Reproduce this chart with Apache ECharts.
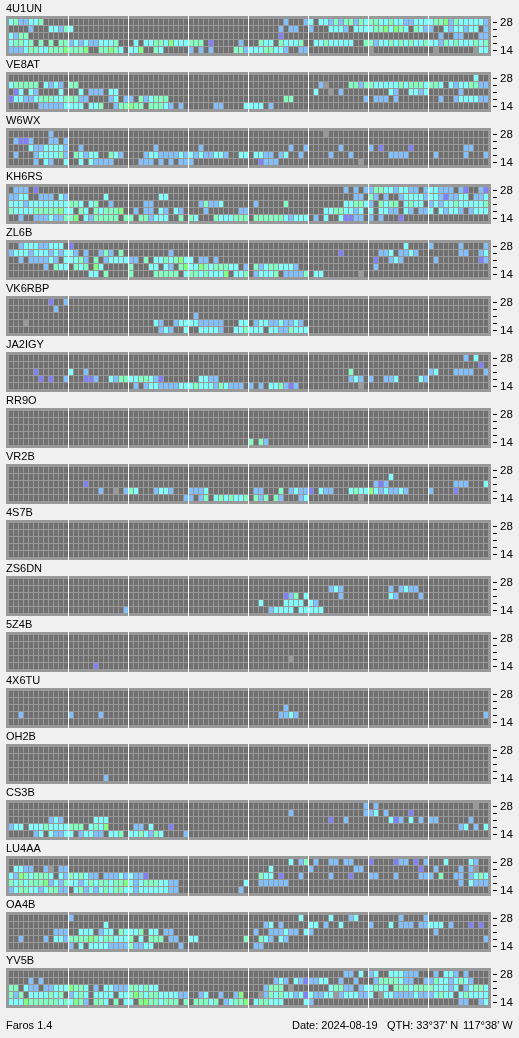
<!DOCTYPE html>
<html><head><meta charset="utf-8">
<style>html,body{margin:0;padding:0;background:#f0f0f0}#c{width:519px;height:1038px}</style>
<script src="https://cdn.jsdelivr.net/npm/echarts@6/dist/echarts.min.js"></script>
</head><body><div id="c"></div><script>
// One string per band, top row (28 MHz) first; one char per 15-minute slot, grouped by 3 hours.
// . = no reception, x = unusable slot, 1..5 = signal level
const s4U1UN = [
"3422334..... ............ ............ ............ .......2...2 3.3324244243 443343322333 344524333332",
"....2...3324 3........... ............ ............ ......2.22.. 2...3332.333 34453543.432 2..3233233.2",
"3244........ ............ ............ ............ ......1..... ............ ............ ..2..22...22",
"34434.4.4.44 2323223334.. .3.334435333 444.1.....2. ..433.43334. .33433333..4 423343434334 332434333434",
"222344334445 4445..44543. 335..43..... 2.2.2....442 33344332..22 ............ x........... .x.......x33"];
const sVE8AT = [
"............ ............ ............ ............ ............ ............ ............ .........3..",
"344444.3232. 44.......... ............ ............ ............ ..2x....4424 433333434443 443.32334422",
".13.32....3. ..3.222.33.. ............ ............ ............ .3..x.2..... ....32..3323 ......2.....",
"133223444334 4422....23.2 2.423444.... ............ .......44... ...........2 .222.2...... ..2..2333322",
"......222223 333.334..244 544.44432.2. .....22....3 333.2....... ............ ............ ............"];
const sW6WX = [
"........2... ............ ............ ............ ............ ...x........ ............ ............",
".2112...22.2 ............ ............ ............ ............ ............ ............ ............",
"....32233332 ..2......... .....2...... ..2......... ........2..2 ......2..... 2.1.....1... .......22...",
".2...2333342 .43233..432. ...233222232 32322332..33 .3322.23..2. ....2...2... ....2222.... .2.....2...2",
".....2.32..3 ..3.32222... ..222.2.2.22 2........... ..1222...... ..........x. ............ ............"];
const sKH6RS = [
".222.1...... ............ ............ ............ ............ .......2.2.2 2443323322.2 33222.21..21",
"2233..222.32 .......3.... ......33.... ............ ............ .........22. 42.2..233332 33212233.223",
"333233333333 443.34..2... ...22....... ..24223..... .2.....4.... .......33443 2.4344.3433. 232334333334",
"433334444453 3.43.434445. .2.22.32.32. ...2......22 ............ ...33443323. 3.3322.32.22 3.32332.2333",
"..2..2223224 45.3244444.4 4.442333..4. 43...4333444 .44444432333 .2.3..31122. 2.2...1..... ............"];
const sZL6B = [
"..233322333. 1........... ............ ............ ............ ............ .......3.... 2.....2....2",
"233323332323 32.2..242.4. ........2... ............ ............ ......1..... ..223.2232.. ......22..23",
"..2.222232.3 3342.4.23333 22.4.3343453 3.22.2...... ............ ............ .1..232..... .2........12",
".......2.433 .434.53..... 4...33.32.45 3354344433.2 .423443332.. ............ .2.......... ............",
"............ ....33.4.... 4....44444.3 44343335.334 .23334.22224 .33.......x. ............ ............"];
const sVK6RBP = [
"........1..2 ............ ............ ............ ............ ............ ............ ............",
".........2.. ............ ............ ............ ............ ............ ............ ............",
"............ ............ ............ .2.......... ............ ............ ............ ............",
"...x........ ............ .....32..233 3322222...33 .2332232232. ............ ............ ............",
"............ ............ ......232..3 ..33332..334 333.33224333 ............ ............ ............"];
const sJA2IGY = [
"............ ............ ............ ............ ............ ............ ............ .......2.3..",
"............ ............ ............ ............ ............ ............ ............ ..........1.",
".....1...... 3..2........ ............ ............ ............ ........4... ............ 23...2222..2",
"......1.1..2 ...112..3244 3344321..... ..3322...... ............ ........232. 2..223....32 ............",
"............ ............ .2.233222233 34333243222. 2.2.334212.. ..........x. ............ ............"];
const sRR9O = [
"............ ............ ............ ............ ............ ............ ............ ............",
"............ ............ ............ ............ ............ ............ ............ ............",
"............ ............ ............ ............ ............ ............ ............ ............",
"............ ............ ............ ............ ............ ............ ............ ............",
"............ ............ ............ ............ 4.42........ ............ ............ ............"];
const sVR2B = [
"............ ............ ............ ............ ............ ............ ............ ............",
"............ ............ ............ ............ ............ ............ ....3....... ............",
"............ ...1........ ............ ............ ............ ............ .212........ .....222...3",
"............ ......2..x.2 43...2332... 2223........ .22...4.2322 1.322...3433 53232232.... 2....1......",
"............ ............ ...........2 2.24.3434334 .424.42...23 ..........x. ............ ............"];
const s4S7B = [
"............ ............ ............ ............ ............ ............ ............ ............",
"............ ............ ............ ............ ............ ............ ............ ............",
"............ ............ ............ ............ ............ ............ ............ ............",
"............ ............ ............ ............ ............ ............ ............ ............",
"............ ............ ............ ............ ............ ............ ............ ............"];
const sZS6DN = [
"............ ............ ............ ............ ............ ............ ............ ............",
"............ ............ ............ ............ ............ ....232..... ....2.2322.. ............",
"............ ............ ............ ............ .......124.3 ......2..... ....32....2. ............",
"............ ............ ............ ............ ..3....3333. 32.......... ............ ............",
"............ ...........2 ............ ............ ....23333.33 333......... ............ ............"];
const s5Z4B = [
"............ ............ ............ ............ ............ ............ ............ ............",
"............ ............ ............ ............ ............ ............ ............ ............",
"............ ............ ............ ............ ............ ............ ............ ............",
"............ ............ ............ ............ ........x... ............ ............ ............",
"............ .....1...... ............ ............ ............ ............ ............ ............"];
const s4X6TU = [
"............ ............ ............ ............ ............ ............ ............ ............",
"............ ............ ............ ............ ............ ............ ............ ............",
"............ ............ ............ ............ .......2.... ............ ............ ............",
"..2......... 2.....2..... ............ ............ ......2232.. ............ ............ ...........2",
"............ ............ ............ ............ ............ ............ ............ ............"];
const sOH2B = [
"............ ............ ............ ............ ............ ............ ............ ............",
"............ ............ ............ ............ ............ ............ ............ ............",
"............ ............ ............ ............ ............ ............ ............ ............",
"............ ............ ............ ............ ............ ............ ............ ............",
"............ .......2.... ............ ............ ............ ............ ............ ............"];
const sCS3B = [
"............ ............ ............ ............ ............ ...........2 .2.......... .........x..",
"............ ............ ............ ............ ........2... ...........2 23.2....1... ............",
"........232. .....333.... ............ ............ ............ ....1..2.... ....312.3.2. 22......2...",
"233.33343333 444.3435.... .22.3...1... ............ ............ ............ ............ ......23.2.3",
".....23.3223 3.23322.334. 3343243....2 ............ ............ ............ ............ ............"];
const sLU4AA = [
"............ ............ ............ ............ ........3.24 .2..22.22... 1....122.1.2 ...3....32..",
".3322..2x.22 ............ ............ ............ ....3....... 2........22. ..........1. .2....2.2x..",
"325434443.32 434322.22232 3221........ ............ ..433.1...2. ....2...1... 22...2....22 2.4..22.2343",
"434344452324 332343443445 3234443322.. ...........3 ..222222.... ............ ............ ......2.3222",
"234433234422 .34232343443 3233333322.. ..........2. ............ ............ ............ ............"];
const sOA4B = [
"............ 2........... ............ ............ ..........3. ....3...23.. ......2....2 ............",
"............ .......3.... ............ ............ ...23.2..... 33.2..3..... 2...3.222.22 333.2...1.1.",
".........222 ..333.233.43 334.33.22... ............ .2..222322.3 2........... ............ .2..........",
"..2....2.332 444454344333 4.3.444.22.. 33.........4 ..432.32.... ............ ............ ...........2",
"............ 2.3.33332222 42233.....2. ............ .22......... ............ ............ ............"];
const sYV5B = [
"............ ............ ............ ............ ............ .......22.3. 23..333222.. .2.332.2....",
"....2.2..... ............ ............ ............ .....232.321 2233..2..2.. .24444322..2 243323432...",
"44.322.22333 5443.2.33222 443433...... ............ ...2444.x... ....34422.23 3433.4443444 433323.23443",
"424.3333434. 2343.3333.33 454344333322 ..23..2..25. ..x243433231 32233x233322 3.x332222322 23433.343333",
"333544444434 3542.443.4.3 3.55443444.4 .44434.23445 .344333....3 2........... ............ ......22..23"];

const stationNames = ["4U1UN","VE8AT","W6WX","KH6RS","ZL6B","VK6RBP","JA2IGY","RR9O","VR2B","4S7B","ZS6DN","5Z4B","4X6TU","OH2B","CS3B","LU4AA","OA4B","YV5B"];
const stationRows = [s4U1UN,sVE8AT,sW6WX,sKH6RS,sZL6B,sVK6RBP,sJA2IGY,sRR9O,sVR2B,s4S7B,sZS6DN,s5Z4B,s4X6TU,sOH2B,sCS3B,sLU4AA,sOA4B,sYV5B];
const bandLabels = ["14","18","21","24","28"];
const shownBands = ["14","28"];
const hourMarks = [12,24,36,48,60,72,84];
const footerLeft = "Faros 1.4";
const footerDate = "Date: 2024-08-19";
const footerQth = "QTH: 33°37' N";
const footerLon = "117°38' W";

const levelColor = {'.':'#707070','x':'#999999','1':'#8080ff','2':'#80c0ff','3':'#80ffff','4':'#80ffc0','5':'#80ff80'};
const slots = []; for (let q=0;q<96;q++) slots.push(String(q));
const FONT = '"Liberation Sans", Arial, sans-serif';
const panelTop = i => 16 + 56*i;

const grid=[],xAxis=[],yAxis=[],series=[],title=[];
stationNames.forEach((name,i)=>{
  grid.push({left:9,width:480,top:panelTop(i)+3,height:35,show:false});
  xAxis.push({gridIndex:i,type:'category',data:slots,show:false});
  yAxis.push({gridIndex:i,type:'category',data:bandLabels,position:'right',offset:4,
    axisLine:{show:false},
    axisTick:{show:true,length:4,alignWithLabel:true,interval:0,lineStyle:{color:'#000',width:1}},
    axisLabel:{show:true,interval:0,margin:7,color:'#000',fontFamily:FONT,fontSize:11.5,
      formatter:v=>shownBands.includes(v)?v:''},
    splitLine:{show:false}});
  title.push({text:name,left:6,top:panelTop(i)-13,padding:0,textStyle:{fontFamily:FONT,fontSize:11,fontWeight:'normal',color:'#000',lineHeight:12}});
  // panel backdrop
  series.push({type:'custom',xAxisIndex:i,yAxisIndex:i,silent:true,z:1,clip:false,data:[[0,4]],
    renderItem:(p,api)=>{const c=api.coord([0,4]),s=api.size([1,1]);
      return {type:'rect',shape:{x:c[0]-s[0]/2-3,y:c[1]-s[1]/2-3,width:s[0]*97,height:s[1]*5+5},style:{fill:'#999999'}};}});
  // cells
  const cells=[];
  stationRows[i].forEach((row,r)=>{
    row.replace(/\s/g,'').split('').forEach((ch,col)=>{cells.push([col,4-r,ch]);});
  });
  series.push({type:'custom',xAxisIndex:i,yAxisIndex:i,silent:true,z:2,clip:false,data:cells,encode:{x:0,y:1},
    renderItem:(p,api)=>{const c=api.coord([api.value(0),api.value(1)]),s=api.size([1,1]);
      return {type:'rect',shape:{x:c[0]-s[0]/2,y:c[1]-s[1]/2,width:s[0]-1,height:s[1]-1},
        style:{fill:levelColor[cells[p.dataIndex][2]]}};}});
  // hour separators
  series.push({type:'custom',xAxisIndex:i,yAxisIndex:i,silent:true,z:3,clip:false,
    data:hourMarks.map(h=>[h,4]),encode:{x:0,y:1},
    renderItem:(p,api)=>{const c=api.coord([api.value(0),4]),s=api.size([1,1]);
      return {type:'rect',shape:{x:c[0]-s[0]/2-1,y:c[1]-s[1]/2-3,width:1,height:s[1]*5+5},style:{fill:'#ffffff'}};}});
});
const ft=(text,left)=>({text,left,top:1020,padding:0,textStyle:{fontFamily:FONT,fontSize:11,fontWeight:'normal',color:'#000',lineHeight:12}});
title.push(ft(footerLeft,6),ft(footerDate,292),ft(footerQth,387),ft(footerLon,463));
const chart=echarts.init(document.getElementById('c'),null,{renderer:'canvas'});
chart.setOption({backgroundColor:'#f0f0f0',animation:false,tooltip:{show:false},grid,xAxis,yAxis,series,title});
</script></body></html>
